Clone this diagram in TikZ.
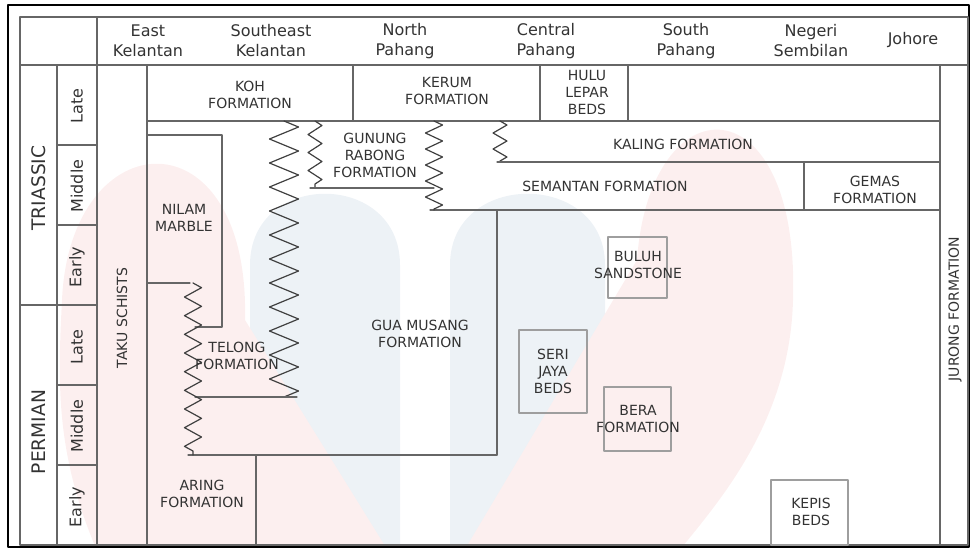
\documentclass[tikz,border=0pt]{standalone}
\usepackage{fontspec}
\setmainfont{DejaVu Sans}
\usetikzlibrary{decorations.pathmorphing}

\definecolor{linegray}{gray}{0.4}
\definecolor{boxgray}{gray}{0.62}
\definecolor{textgray}{gray}{0.2}
\definecolor{wmpink}{RGB}{252,239,239}
\definecolor{wmblue}{RGB}{237,242,246}

\begin{document}
\begin{tikzpicture}[
  x=0.75pt,
  y=-0.75pt,
  line cap=round,
  line join=round,
  grid/.style={draw=linegray, line width=0.9pt},
  bed/.style={draw=boxgray, line width=0.8pt},
  contact/.style 2 args={
    draw=black!75,
    line width=0.9pt,
    decorate,
    decoration={zigzag, segment length=#1, amplitude=#2}
  },
  region/.style={font=\fontsize{12}{15}\selectfont, text=textgray, align=center},
  unit/.style={font=\fontsize{10.5}{12.75}\selectfont, text=textgray, align=center},
  epoch/.style={font=\fontsize{12}{14}\selectfont, text=textgray, rotate=90},
  period/.style={font=\fontsize{14}{16}\selectfont, text=textgray, rotate=90},
  vunit/.style={unit, rotate=90}
]
  \useasboundingbox (0,0) rectangle (971,551);

  % Watermark in the background
  \fill[wmblue]
    (250,546) -- (250,265)
    .. controls (250,170) and (400,170) .. (400,265)
    -- (400,546) -- cycle;
  \fill[wmblue]
    (450,546) -- (450,265)
    .. controls (450,170) and (605,170) .. (605,265)
    -- (605,546) -- cycle;
  \fill[wmpink]
    (95,546)
    .. controls (55,450) and (58,380) .. (62,300)
    .. controls (70,120) and (250,110) .. (245,320)
    -- (385,546) -- cycle;
  \fill[wmpink]
    (467,546) -- (637,260)
    .. controls (650,80) and (800,80) .. (793,300)
    .. controls (790,420) and (720,500) .. (683,546)
    -- cycle;

  % Frame
  \draw[line width=2pt] (8,5) rectangle (969,547);
  \draw[grid] (20,17) rectangle (968,545);

  % Header
  \draw[grid] (20,65) -- (968,65);
  \draw[grid] (97,17) -- (97,65);

  % Columns of the time scale
  \draw[grid] (57,65) -- (57,545);
  \draw[grid] (97,65) -- (97,545);
  \draw[grid] (147,65) -- (147,545);
  \draw[grid] (940,65) -- (940,545);
  \draw[grid] (20,305) -- (97,305);
  \draw[grid] (57,145) -- (97,145);
  \draw[grid] (57,225) -- (97,225);
  \draw[grid] (57,385) -- (97,385);
  \draw[grid] (57,465) -- (97,465);

  % Late Triassic units
  \draw[grid] (147,121) -- (940,121);
  \draw[grid] (353,65) -- (353,121);
  \draw[grid] (540,65) -- (540,121);
  \draw[grid] (628,65) -- (628,121);

  % Kaling, Semantan and Gemas
  \draw[contact={12pt}{5.2pt}] (500,121) -- (500,162);
  \draw[grid] (497,162) -- (940,162);
  \draw[grid] (430,210) -- (940,210);
  \draw[grid] (804,162) -- (804,210);

  % Gunung Rabong
  \draw[contact={13.5pt}{5.2pt}] (315,121) -- (315,188);
  \draw[grid] (310,188) -- (434,188);
  \draw[contact={12pt}{6.4pt}] (434,121) -- (434,210);

  % Gua Musang
  \draw[grid] (497,210) -- (497,455);
  \draw[grid] (188,455) -- (497,455);

  % Nilam Marble and Telong
  \draw[grid] (147,135) -- (222,135) -- (222,327) -- (195,327);
  \draw[grid] (147,283) -- (190,283);
  \draw[contact={18pt}{10.9pt}] (284,121) -- (284,397);
  \draw[grid] (195,397) -- (297,397);
  \draw[contact={14pt}{6.4pt}] (193,283) -- (193,455);

  % Aring
  \draw[grid] (256,455) -- (256,545);

  % Beds
  \draw[bed] (519,330) rectangle (587,413);
  \draw[bed] (608,237) rectangle (667,298);
  \draw[bed] (604,387) rectangle (671,451);
  \draw[bed] (771,480) rectangle (848,545);

  % Regions
  \node[region] (eastkel) at (148,41) {East\\Kelantan};
  \node[region] (sekel) at (271,41) {Southeast\\Kelantan};
  \node[region] (npahang) at (405,41) {North\\Pahang};
  \node[region] (cpahang) at (546,41) {Central\\Pahang};
  \node[region] (spahang) at (686,41) {South\\Pahang};
  \node[region] (negeri) at (811,41) {Negeri\\Sembilan};
  \node[region] (johore) at (913,40) {Johore};

  % Time scale
  \node[period] (triassic) at (39,188) {TRIASSIC};
  \node[period] (permian) at (39,432) {PERMIAN};
  \node[epoch] (trlate) at (77,106) {Late};
  \node[epoch] (trmid) at (77,186) {Middle};
  \node[epoch] (trearly) at (77,267) {Early};
  \node[epoch] (plate) at (77,347) {Late};
  \node[epoch] (pmid) at (77,426) {Middle};
  \node[epoch] (pearly) at (77,507) {Early};

  % Formations
  \node[vunit] (taku) at (122,318) {TAKU SCHISTS};
  \node[vunit] (jurong) at (955,309) {JURONG FORMATION};
  \node[unit] (koh) at (250,95) {KOH\\FORMATION};
  \node[unit] (kerum) at (447,91) {KERUM\\FORMATION};
  \node[unit] (hulu) at (587,92) {HULU\\LEPAR\\BEDS};
  \node[unit] (gunung) at (375,155) {GUNUNG\\RABONG\\FORMATION};
  \node[unit] (kaling) at (683,144) {KALING FORMATION};
  \node[unit] (semantan) at (605,186) {SEMANTAN FORMATION};
  \node[unit] (gemas) at (875,190) {GEMAS\\FORMATION};
  \node[unit] (nilam) at (184,218) {NILAM\\MARBLE};
  \node[unit] (telong) at (237,356) {TELONG\\FORMATION};
  \node[unit] (guamusang) at (420,334) {GUA MUSANG\\FORMATION};
  \node[unit] (serijaya) at (553,371) {SERI\\JAYA\\BEDS};
  \node[unit] (buluh) at (638,265) {BULUH\\SANDSTONE};
  \node[unit] (bera) at (638,419) {BERA\\FORMATION};
  \node[unit] (kepis) at (811,512) {KEPIS\\BEDS};
  \node[unit] (aring) at (202,494) {ARING\\FORMATION};
\end{tikzpicture}
\end{document}
